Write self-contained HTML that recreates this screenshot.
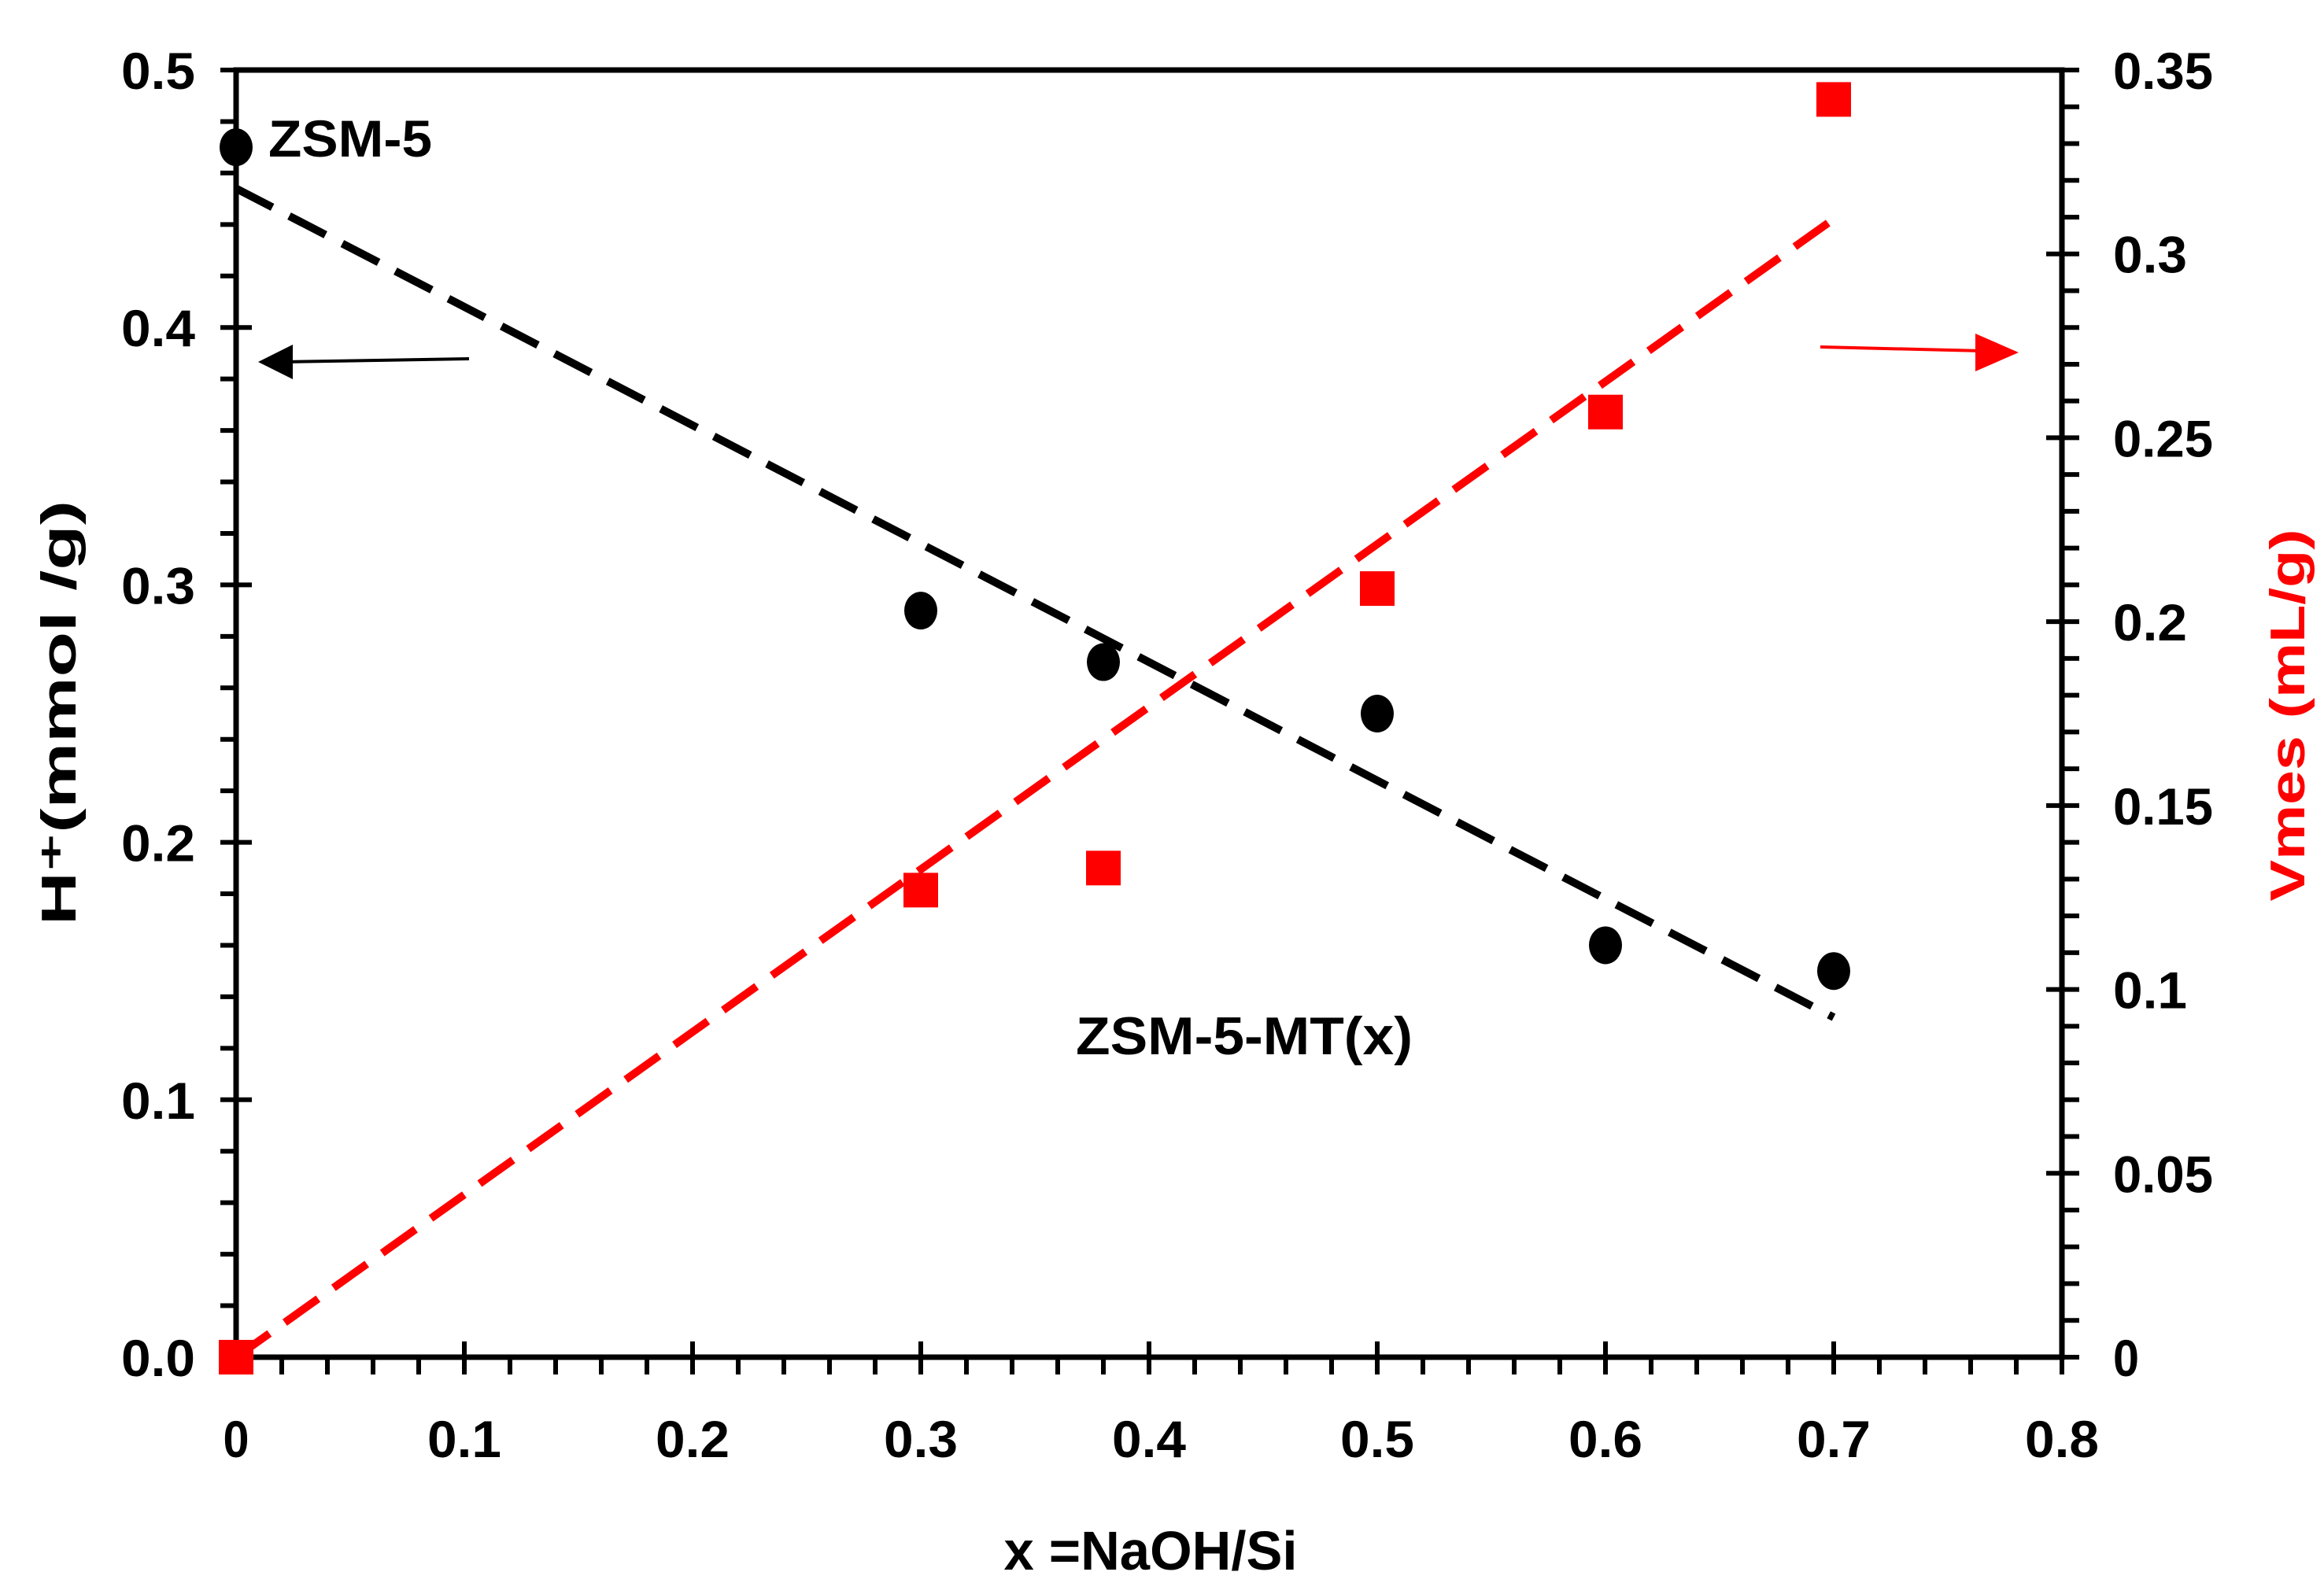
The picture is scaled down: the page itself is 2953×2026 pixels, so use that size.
<!DOCTYPE html>
<html><head><meta charset="utf-8"><style>
html,body{margin:0;padding:0;background:#fff;}
svg{display:block;}
text{font-family:"Liberation Sans",sans-serif;font-weight:bold;}
</style></head><body>
<svg id="chart" width="2953" height="2026" viewBox="0 0 2953 2026" xmlns="http://www.w3.org/2000/svg">
<g id="axes"></g>
<g id="marks"></g>
<text x="341" y="199" font-size="66" textLength="208" lengthAdjust="spacingAndGlyphs">ZSM-5</text>
<text x="1367" y="1340" font-size="68" textLength="428" lengthAdjust="spacingAndGlyphs">ZSM-5-MT(x)</text>
<text x="1462" y="1995" font-size="70" text-anchor="middle" textLength="373" lengthAdjust="spacingAndGlyphs">x =NaOH/Si</text>
<text transform="translate(96,906) rotate(-90)" font-size="62" text-anchor="middle" textLength="540" lengthAdjust="spacingAndGlyphs">H⁺(mmol /g)</text>
<text transform="translate(2928,909) rotate(-90)" font-size="62" fill="#ff0000" text-anchor="middle" textLength="473" lengthAdjust="spacingAndGlyphs">Vmes (mL/g)</text>
<line x1="596" y1="456" x2="360" y2="460" stroke="#000" stroke-width="4"/>
<polygon points="328,460 372,438 372,482" fill="#000"/>
<line x1="2313" y1="441" x2="2520" y2="446" stroke="#ff0000" stroke-width="4"/>
<polygon points="2565,448 2510,424 2510,472" fill="#ff0000"/>
</svg>
<script>
const xValues = [0, 0.3, 0.38, 0.5, 0.6, 0.7];
const hPlus = [0.47, 0.29, 0.27, 0.25, 0.16, 0.15];
const vmes = [0, 0.127, 0.133, 0.209, 0.257, 0.342];
const hTrendX = [0, 0.7];
const hTrendY = [0.454, 0.132];
const vTrendX = [0, 0.7];
const vTrendY = [0, 0.3095];
const xTicks = ["0","0.1","0.2","0.3","0.4","0.5","0.6","0.7","0.8"];
const yLeftTicks = ["0.0","0.1","0.2","0.3","0.4","0.5"];
const yRightTicks = ["0","0.05","0.1","0.15","0.2","0.25","0.3","0.35"];

const L=300,R=2620,T=89,B=1725;
const NS="http://www.w3.org/2000/svg";
const sx=v=>L+(v/0.8)*(R-L);
const syL=v=>B-(v/0.5)*(B-T);
const syR=v=>B-(v/0.35)*(B-T);
function mk(tag,attrs,parent){const e=document.createElementNS(NS,tag);for(const k in attrs)e.setAttribute(k,attrs[k]);parent.appendChild(e);return e;}
function lbl(s,attrs){const t=mk('text',Object.assign({'font-size':66},attrs),ax);t.textContent=s;
 let w=0;for(const ch of s)w+=(ch==='.'?28:33);
 t.setAttribute('textLength',w);t.setAttribute('lengthAdjust','spacingAndGlyphs');return t;}
const ax=document.getElementById('axes'), mg=document.getElementById('marks');

let f=mk('rect',{x:L,y:T,width:R-L,height:B-T,fill:'none',stroke:'#000','stroke-width':7},ax);



for(let i=0;i<=40;i++){const v=i*0.02;const x=sx(v);const major=i%5===0;
 let t=mk('line',{x1:x,x2:x,y1:major?B-20:B,y2:B+22,stroke:'#000','stroke-width':6},ax);
 
 }
xTicks.forEach((s,i)=>{let t=lbl(s,{x:sx(i*0.1),y:1852,'text-anchor':'middle'});
 
 });
for(let i=0;i<=25;i++){const v=i*0.02;const y=syL(v);const major=i%5===0;
 let t=mk('line',{x1:L-20,x2:major?L+20:L,y1:y,y2:y,stroke:'#000','stroke-width':6},ax);
 
 }
yLeftTicks.forEach((s,i)=>{let t=lbl(s,{x:248,y:syL(i*0.1)+24,'text-anchor':'end'});
 
 });
for(let i=0;i<=35;i++){const v=i*0.01;const y=syR(v);const major=i%5===0;
 let t=mk('line',{x1:major?R-20:R,x2:R+22,y1:y,y2:y,stroke:'#000','stroke-width':6},ax);
 
 }
yRightTicks.forEach((s,i)=>{let t=lbl(s,{x:2685,y:syR(i*0.05)+24,'text-anchor':'start'});
 
 });

let l1=mk('line',{x1:sx(hTrendX[0]),y1:syL(hTrendY[0]),x2:sx(hTrendX[1]),y2:syL(hTrendY[1]),stroke:'#000','stroke-width':10,'stroke-dasharray':'52 24'},mg);


let l2=mk('line',{x1:sx(vTrendX[0]),y1:syR(vTrendY[0]),x2:sx(vTrendX[1]),y2:syR(vTrendY[1]),stroke:'#ff0000','stroke-width':10,'stroke-dasharray':'52 24'},mg);



xValues.forEach((x,i)=>{
 let c=mk('ellipse',{cx:sx(x),cy:syL(hPlus[i]),rx:21,ry:24,fill:'#000'},mg);
 
 
 let s=mk('rect',{x:sx(x)-22,y:syR(vmes[i])-22,width:44,height:44,fill:'#ff0000'},mg);
 
 
});
</script>
</body></html>
